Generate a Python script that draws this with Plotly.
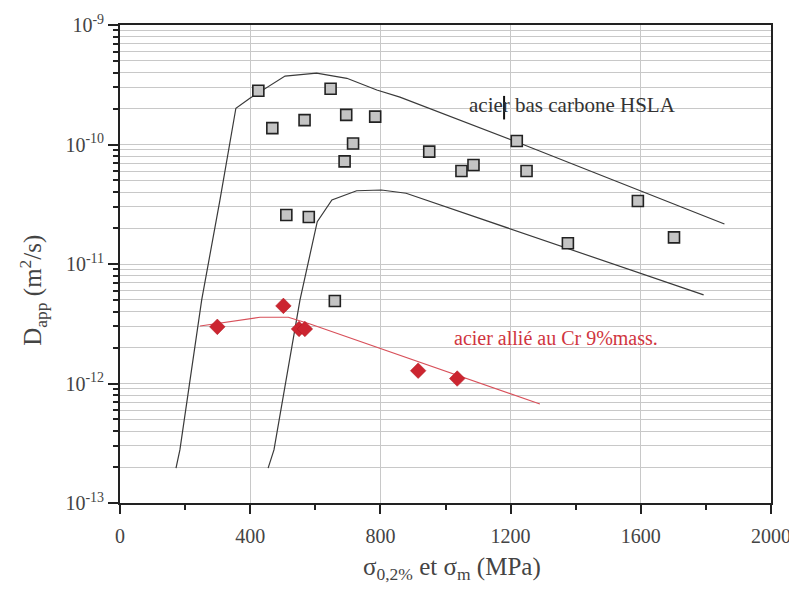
import plotly.graph_objects as go

# HSLA data points (squares)
hsla_x = [425, 468, 567, 647, 695, 784, 716, 690, 950, 1049, 1086, 1249, 1219,
          1591, 1702, 1376, 511, 580, 660]
hsla_y = [2.82e-10, 1.37e-10, 1.60e-10, 2.93e-10, 1.77e-10, 1.71e-10, 1.02e-10,
          7.23e-11, 8.71e-11, 6.0e-11, 6.73e-11, 6.0e-11, 1.07e-10,
          3.37e-11, 1.67e-11, 1.49e-11, 2.57e-11, 2.47e-11, 4.90e-12]

# Cr 9% data points (diamonds)
cr_x = [299, 502, 550, 568, 916, 1036]
cr_y = [2.98e-12, 4.46e-12, 2.86e-12, 2.86e-12, 1.28e-12, 1.10e-12]

# upper envelope curve
up_x = [172, 184, 251, 307, 356, 399, 507, 604, 697, 789, 860, 1219, 1857]
up_y = [1.96e-13, 2.78e-13, 5.0e-12, 3.43e-11, 2.01e-10, 2.44e-10, 3.74e-10,
        3.95e-10, 3.58e-10, 2.86e-10, 2.49e-10, 1.05e-10, 2.16e-11]

# lower envelope curve
lo_x = [455, 473, 553, 606, 651, 727, 803, 879, 1793]
lo_y = [1.96e-13, 2.78e-13, 5.0e-12, 2.26e-11, 3.43e-11, 4.10e-11, 4.16e-11,
        3.91e-11, 5.51e-12]

# Cr trend line
crl_x = [246, 430, 517, 584, 1290]
crl_y = [3.03e-12, 3.58e-12, 3.58e-12, 3.15e-12, 6.73e-13]

# text cursor bar in label
bar_x = [1180, 1180]
bar_y = [2.55e-10, 1.62e-10]

x_ticks = [0, 400, 800, 1200, 1600, 2000]
x_minor = [200, 600, 1000, 1400, 1800]
y_ticks = [1e-13, 1e-12, 1e-11, 1e-10, 1e-9]
y_ticktext = ["10<sup>-13</sup>", "10<sup>-12</sup>", "10<sup>-11</sup>",
              "10<sup>-10</sup>", "10<sup>-9</sup>"]
y_minor = [k * 10.0 ** e for e in range(-13, -9) for k in range(2, 10)]

serif = "Liberation Serif"
red = "#cc2530"
grid = "#c8c8c8"

fig = go.Figure()
fig.add_trace(go.Scatter(x=up_x, y=up_y, mode="lines",
                         line=dict(color="#3a3a3a", width=1.2), showlegend=False))
fig.add_trace(go.Scatter(x=lo_x, y=lo_y, mode="lines",
                         line=dict(color="#3a3a3a", width=1.2), showlegend=False))
fig.add_trace(go.Scatter(x=crl_x, y=crl_y, mode="lines",
                         line=dict(color="#d8505a", width=1.1), showlegend=False))
fig.add_trace(go.Scatter(x=hsla_x, y=hsla_y, mode="markers",
                         marker=dict(symbol="square", size=11, color="#c4c4c4",
                                     line=dict(color="#222222", width=1.6)),
                         showlegend=False))
fig.add_trace(go.Scatter(x=cr_x, y=cr_y, mode="markers",
                         marker=dict(symbol="diamond", size=12, color=red,
                                     line=dict(color="#b01820", width=0.5)),
                         showlegend=False))
fig.add_trace(go.Scatter(x=bar_x, y=bar_y, mode="lines",
                         line=dict(color="#111111", width=2), showlegend=False))

fig.add_annotation(x=1389, y=-9.669, xref="x", yref="y", text="acier bas carbone HSLA",
                   showarrow=False, font=dict(family=serif, size=21, color="#333333"))
fig.add_annotation(x=1019, y=-11.619, xref="x", yref="y", xanchor="left",
                   text="acier allié au Cr 9%mass.", showarrow=False,
                   font=dict(family=serif, size=20, color="#d03540"))

# axis titles
fig.add_annotation(x=-0.134, y=0.4456, xref="paper", yref="paper",
                   text="D<sub>app</sub> (m<sup>2</sup>/s)", textangle=-90,
                   showarrow=False, xanchor="center", yanchor="middle",
                   font=dict(family=serif, size=25, color="#444"))
fig.add_annotation(x=0.51, y=-0.136, xref="paper", yref="paper",
                   text="σ<sub>0,2%</sub> et σ<sub>m</sub> (MPa)",
                   showarrow=False, xanchor="center", yanchor="middle",
                   font=dict(family=serif, size=25, color="#444"))

fig.update_xaxes(range=[0, 2000], tickvals=x_ticks, ticks="outside", ticklen=9,
                 tickwidth=1.5, tickcolor="#222", showline=True, linecolor="#222",
                 linewidth=1.8, mirror=True, showgrid=True, gridcolor=grid,
                 gridwidth=1, zeroline=False, automargin=False, ticklabelstandoff=5,
                 minor=dict(tickvals=x_minor, ticks="outside",
                            ticklen=5, tickcolor="#222", showgrid=False),
                 tickfont=dict(family=serif, size=20, color="#444"))
fig.update_yaxes(type="log", range=[-13, -9], tickvals=y_ticks, ticktext=y_ticktext,
                 ticks="outside", ticklen=10, tickwidth=1.5, tickcolor="#222",
                 showline=True, linecolor="#222", linewidth=1.8, mirror=True,
                 showgrid=True, gridcolor=grid, gridwidth=1, zeroline=False,
                 automargin=False,
                 minor=dict(tickvals=y_minor, ticks="outside", ticklen=5,
                            tickcolor="#222", showgrid=True, gridcolor=grid,
                            gridwidth=1),
                 tickfont=dict(family=serif, size=20, color="#444"))

fig.update_layout(width=789, height=582, paper_bgcolor="white", plot_bgcolor="white",
                  margin=dict(l=112, r=26, t=17, b=87), showlegend=False,
                  font=dict(family=serif))

fig.write_html("out.html")
